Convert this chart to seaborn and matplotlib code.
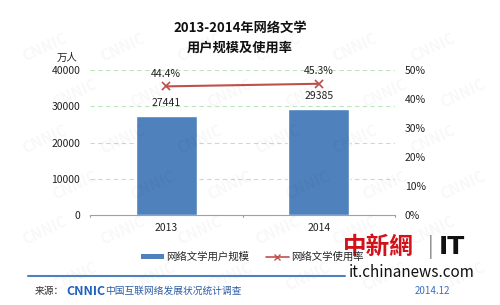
import matplotlib
matplotlib.use("Agg")
import matplotlib.pyplot as plt
import seaborn as sns
import pandas as pd
from matplotlib.lines import Line2D
from matplotlib.patches import Patch

years = ["2013", "2014"]
users = [27441, 29385]
rate = [44.4, 45.3]
left_ticks = [0, 10000, 20000, 30000, 40000]
right_ticks = [0, 10, 20, 30, 40, 50]

sns.set_theme(style="white")
plt.rcParams['font.family'] = ['Noto Sans CJK SC', 'DejaVu Sans']

BLUE = "#4F81BD"
RED = "#C0504D"

df = pd.DataFrame({"year": years, "users": users, "rate": rate})

fig = plt.figure(figsize=(5, 3.05), dpi=100)
fig.patch.set_facecolor("white")

# faint background watermark (kept inside the figure)
for row in range(6):
    for col in range(6):
        fig.text(0.04 + col * 0.155 + (row % 2) * 0.06, 0.9 - row * 0.15, "CNNIC",
                 fontsize=11, color="#000000", alpha=0.03, rotation=25,
                 fontweight="bold", ha="left", va="top", zorder=0)

ax = fig.add_axes([0.18, 0.295, 0.61, 0.475])
ax.set_facecolor("none")
sns.barplot(data=df, x="year", y="users", color=BLUE, width=0.4, saturation=1,
            ax=ax, zorder=3)
ax.set_ylim(0, 40000)
ax.set_yticks(left_ticks)
ax.set_yticklabels([str(t) for t in left_ticks], fontsize=7.5, color="#222222")
ax.set_xlim(-0.5, 1.5)
ax.set_xlabel("")
ax.set_ylabel("")
ax.tick_params(axis="x", labelsize=7.5, colors="#222222", length=0, pad=6)
ax.tick_params(axis="y", length=0, pad=7)
for t in left_ticks[1:]:
    ax.axhline(t, color="#BFE3BF", lw=0.8, ls=(0, (4, 3)), zorder=1)
for s in ["top", "right", "left"]:
    ax.spines[s].set_visible(False)
ax.spines["bottom"].set_color("#A0A0A0")
ax.spines["bottom"].set_linewidth(0.8)
for xb in [-0.5, 0.5, 1.5]:
    ax.plot([xb, xb], [0, -500], color="#A0A0A0", lw=0.8, clip_on=False)

for i, v in enumerate(users):
    ax.text(i, v + 2000, str(v), ha="center", va="bottom", fontsize=7.5, color="#222222")

ax2 = ax.twinx()
sns.lineplot(data=df, x="year", y="rate", color=RED, marker="x", markersize=6,
             markeredgewidth=1.2, markeredgecolor=RED, lw=1.5, ax=ax2)
ax2.set_ylim(0, 50)
ax2.set_yticks(right_ticks)
ax2.set_yticklabels([f"{t}%" for t in right_ticks], fontsize=7.5, color="#222222")
ax2.tick_params(axis="y", length=0, pad=7)
ax2.set_ylabel("")
for s in ["top", "right", "left", "bottom"]:
    ax2.spines[s].set_visible(False)
for i, v in enumerate(rate):
    ax2.text(i, v + 2.6, f"{v}%", ha="center", va="bottom", fontsize=7.5, color="#222222")

fig.text(0.48, 0.91, "2013-2014年网络文学", ha="center", va="center",
         fontsize=9.5, fontweight="bold", color="#111111")
fig.text(0.48, 0.842, "用户规模及使用率", ha="center", va="center",
         fontsize=9.5, fontweight="bold", color="#111111")
fig.text(0.135, 0.81, "万人", ha="center", va="center", fontsize=7.5, color="#222222")

handles = [Patch(facecolor=BLUE, edgecolor="none"),
           Line2D([0], [0], color=RED, marker="x", lw=1.2, markersize=5)]
fig.legend(handles, ["网络文学用户规模", "网络文学使用率"], loc="center",
           bbox_to_anchor=(0.505, 0.157), ncol=2, frameon=False, fontsize=7.5,
           handlelength=2.2, handleheight=0.4, columnspacing=1.6, handletextpad=0.2)

# footer
fig.add_artist(Line2D([0.055, 0.69], [0.095, 0.095], color=BLUE, lw=1.5))
fig.text(0.07, 0.045, "来源：", fontsize=7, color="#333333", va="center")
fig.text(0.133, 0.045, "CNNIC", fontsize=9, color="#1F5FBF", va="center", fontweight="bold")
fig.text(0.21, 0.045, "中国互联网络发展状况统计调查", fontsize=7, color="#2E5EA8", va="center")
fig.text(0.865, 0.045, "2014.12", fontsize=7, color="#3A6FC0", va="center", ha="center")

# news watermark
fig.text(0.686, 0.19, "中新網", fontsize=17, color="#D0121B", va="center", fontweight="bold")
fig.text(0.856, 0.19, "|", fontsize=15, color="#888888", va="center")
fig.text(0.878, 0.19, "IT", fontsize=18, color="#111111", va="center", fontweight="heavy",
         family="DejaVu Sans")
fig.text(0.824, 0.105, "it.chinanews.com", fontsize=11, color="#111111", va="center", ha="center")

fig.savefig("out.png", dpi=100)
